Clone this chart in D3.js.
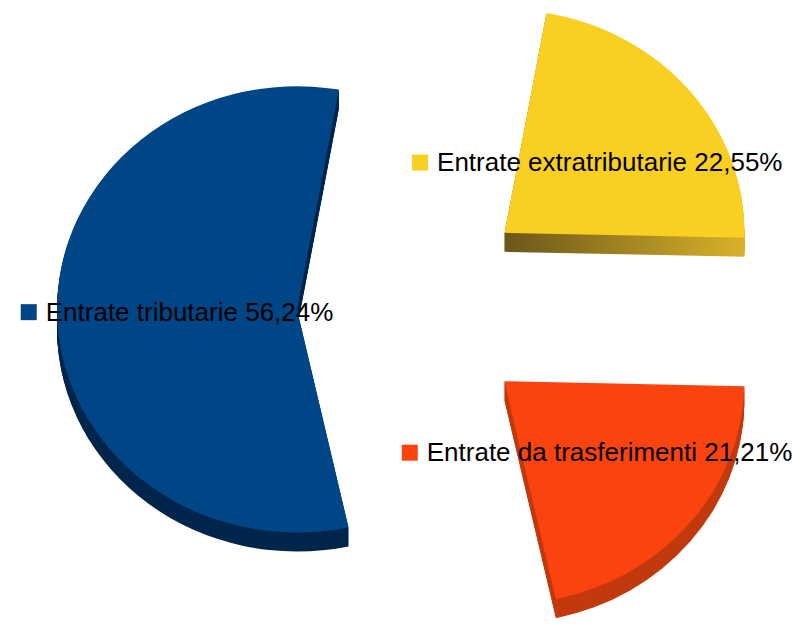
<!DOCTYPE html>
<html>
<head>
<meta charset="utf-8">
<script src="https://cdn.jsdelivr.net/npm/d3@7"></script>
<style>
    body { margin: 0; background: #ffffff; }
    text { font-family: "Liberation Sans", Arial, sans-serif; }
</style>
</head>
<body>
<script>
var categories = ["Entrate tributarie", "Entrate extratributarie", "Entrate da trasferimenti"];
var percentages = [56.24, 22.55, 21.21];

function init() {
    var w = 792;
    var h = 625;

    var cx = 414, cy = 307;
    var radius = 240;
    var ky = 0.93;       // vertical squash of the tilted pie
    var explode = 117;   // distance each slice is pulled out
    var depth = 19;      // thickness of the 3d slices

    var topColors = ["#004586", "#f9cf21", "#fb430f"];
    var sideColors = ["#00264c", "url(#yellowSide)", "#c23a0f"];

    var svg = d3.select("body").append("svg").attr("width", w).attr("height", h);

    var defs = svg.append("defs");
    var grad = defs.append("linearGradient")
        .attr("id", "yellowSide")
        .attr("gradientUnits", "userSpaceOnUse")
        .attr("x1", 0).attr("y1", 0)
        .attr("x2", radius).attr("y2", 0);
    grad.append("stop").attr("offset", "0%").attr("stop-color", "#6a5619");
    grad.append("stop").attr("offset", "100%").attr("stop-color", "#d9b22a");

    var start = 167.6 * Math.PI / 180;
    var pie = d3.pie().sort(null).value(function (d) { return d; })
        .startAngle(start).endAngle(start + 2 * Math.PI);
    var arcs = pie(percentages);

    var arc = d3.arc().innerRadius(0).outerRadius(radius);

    arcs.forEach(function (a, i) {
        var mid = (a.startAngle + a.endAngle) / 2;
        var ox = explode * Math.sin(mid);
        var oy = -explode * Math.cos(mid);

        var g = svg.append("g")
            .attr("transform", "translate(" + (cx + ox) + "," + (cy + oy) + ")");

        // extrusion: stacked copies shifted down
        for (var k = depth; k >= 1; k--) {
            g.append("path")
                .attr("d", arc(a))
                .attr("transform", "translate(0," + k + ") scale(1," + ky + ")")
                .attr("fill", sideColors[i]);
        }

        g.append("path")
            .attr("d", arc(a))
            .attr("transform", "scale(1," + ky + ")")
            .attr("fill", topColors[i]);
    });

    // labels with color key, centred on each slice
    arcs.forEach(function (a, i) {
        var mid = (a.startAngle + a.endAngle) / 2;
        var ox = explode * Math.sin(mid);
        var oy = -explode * Math.cos(mid);
        var c = arc.centroid(a);
        var lx = cx + ox + c[0];
        var ly = cy + oy + c[1] * ky;

        var lab = svg.append("g");
        var txt = lab.append("text")
            .attr("font-size", "26px")
            .attr("fill", "#000000")
            .attr("y", ly + 9)
            .text(categories[i] + " " + percentages[i].toFixed(2).replace(".", ",") + "%");

        var tw = txt.node().getComputedTextLength();
        var total = 16 + 9 + tw;
        var x0 = lx - total / 2;

        lab.append("rect")
            .attr("x", x0)
            .attr("y", ly - 7.5)
            .attr("width", 16)
            .attr("height", 16)
            .attr("fill", topColors[i]);

        txt.attr("x", x0 + 16 + 9);
    });
}

window.onload = init;
</script>
</body>
</html>
